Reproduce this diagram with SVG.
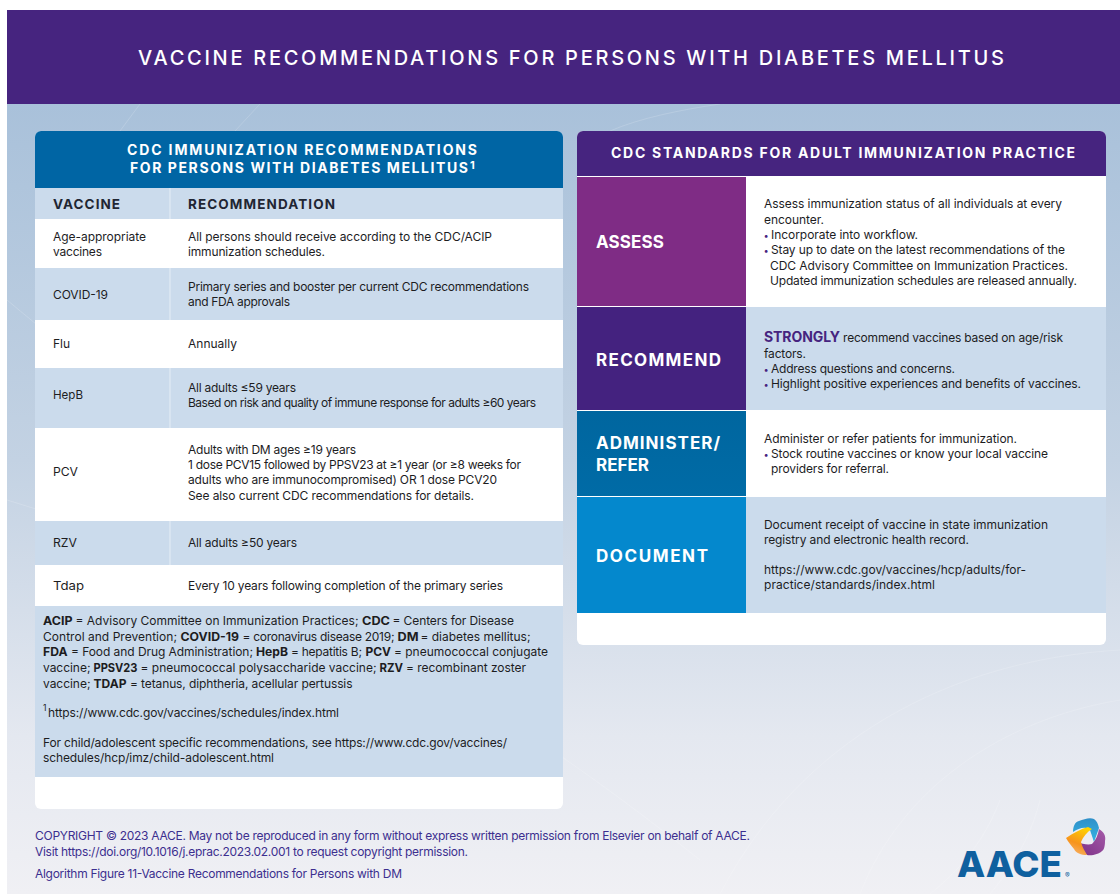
<svg xmlns="http://www.w3.org/2000/svg" width="1120" height="894" viewBox="0 0 1120 894">
<defs>
<linearGradient id="bg" x1="0" y1="0" x2="0" y2="1"><stop offset="0" stop-color="#a9c1da"/><stop offset="0.45" stop-color="#c3d2e3"/><stop offset="0.8" stop-color="#e4e8f0"/><stop offset="1" stop-color="#f0f0f4"/></linearGradient>
<linearGradient id="blueG" x1="0" y1="0" x2="0" y2="1"><stop offset="0" stop-color="#2f8fc8"/><stop offset="1" stop-color="#34b4e4"/></linearGradient>
<linearGradient id="purG" x1="1" y1="0" x2="0" y2="1"><stop offset="0" stop-color="#a45aa8"/><stop offset="1" stop-color="#7c2f86"/></linearGradient>
<linearGradient id="orG" x1="0.7" y1="0" x2="0.3" y2="1"><stop offset="0" stop-color="#ffd400"/><stop offset="0.6" stop-color="#f7941d"/><stop offset="1" stop-color="#f6b26b"/></linearGradient>
<linearGradient id="admG" x1="0" y1="0" x2="0" y2="1"><stop offset="0" stop-color="#00669f"/><stop offset="1" stop-color="#006ba6"/></linearGradient>
</defs>
<style>
text{font-family:"Inter","Liberation Sans",sans-serif}
.b{font-size:12px;fill:#1d1d1f}
.s{font-weight:700}
.th{font-size:13.5px;font-weight:700;fill:#1f2633}
.ttl{font-size:14px;font-weight:700;fill:#fff}
.act{font-size:17px;font-weight:700;fill:#fff}
.ft{font-size:12px;fill:#3c2f8f}
.lt{fill:#cbdbec}
.wh{fill:#fff}
.dv{stroke:#e6eef6;stroke-width:1;fill:none}
.arc{stroke:#fff;stroke-opacity:.16;stroke-width:1;fill:none}
.bu{fill:#46247f;font-size:9px;font-weight:700}
</style>
<rect width="1120" height="894" fill="#fff"/>
<rect id="background" x="7" y="104" width="1113" height="790" fill="url(#bg)"/>
<g id="bg-arcs">
<path class="arc" d="M7 300C150 420 300 520 560 610"/><path class="arc" d="M7 500C200 560 400 620 700 860"/><path class="arc" d="M1120 650C950 660 800 740 720 894"/><path class="arc" d="M1120 700C1000 720 900 790 860 894"/><path class="arc" d="M1040 800C1030 840 1010 870 990 894"/><path class="arc" d="M1000 800C985 840 960 870 930 894"/><path class="arc" d="M140 104L120 131"/><path class="arc" d="M260 104L235 131"/><path class="arc" d="M720 104C680 110 640 118 610 131"/>
</g>
<g id="title-bar"><rect x="7" y="10" width="1113" height="94" fill="#46247f"/>
<text x="138" y="65" font-size="20" font-weight="500" fill="#fff" textLength="866">VACCINE RECOMMENDATIONS FOR PERSONS WITH DIABETES MELLITUS</text></g>

<g id="left-panel">
<rect x="35" y="131" width="528" height="678" rx="6" class="wh"/>
<path d="M35 188V137a6 6 0 0 1 6-6H557a6 6 0 0 1 6 6V188Z" fill="#0065a4"/>
<text class="ttl" x="127" y="155" textLength="350">CDC IMMUNIZATION RECOMMENDATIONS</text>
<text class="ttl" x="130" y="173" textLength="338">FOR PERSONS WITH DIABETES MELLITUS</text>
<text x="470" y="169" font-size="11" font-weight="700" fill="#fff">1</text>
</g>
<g id="table-header"><rect x="35" y="188" width="528" height="31" class="lt"/><path class="dv" d="M170 188V219"/>
<text class="th" x="53" y="209" textLength="67">VACCINE</text><text class="th" x="188" y="209" textLength="147">RECOMMENDATION</text></g>
<g id="row-age">
<text class="b" x="53" y="241" textLength="93">Age-appropriate</text><text class="b" x="53" y="256" textLength="49">vaccines</text>
<text class="b" x="188" y="241" textLength="304">All persons should receive according to the CDC/ACIP</text><text class="b" x="188" y="256" textLength="137">immunization schedules.</text></g>
<g id="row-covid"><rect x="35" y="268" width="528" height="52" class="lt"/><path class="dv" d="M170 268V320"/>
<text class="b" x="53" y="299" textLength="55">COVID-19</text>
<text class="b" x="188" y="291" textLength="341">Primary series and booster per current CDC recommendations</text><text class="b" x="188" y="306" textLength="102">and FDA approvals</text></g>
<g id="row-flu"><text class="b" x="53" y="348">Flu</text><text class="b" x="188" y="348" textLength="49">Annually</text></g>
<g id="row-hepb"><rect x="35" y="368" width="528" height="60" class="lt"/><path class="dv" d="M170 368V428"/>
<text class="b" x="53" y="399" textLength="30" lengthAdjust="spacingAndGlyphs">HepB</text>
<text class="b" x="188" y="392" textLength="108">All adults ≤59 years</text><text class="b" x="188" y="407" textLength="348">Based on risk and quality of immune response for adults ≥60 years</text></g>
<g id="row-pcv"><text class="b" x="53" y="476" textLength="25" lengthAdjust="spacingAndGlyphs">PCV</text>
<text class="b" x="188" y="454" textLength="168">Adults with DM ages ≥19 years</text>
<text class="b" x="188" y="469" textLength="333">1 dose PCV15 followed by PPSV23 at ≥1 year (or ≥8 weeks for</text>
<text class="b" x="188" y="484" textLength="309">adults who are immunocompromised) OR 1 dose PCV20</text>
<text class="b" x="188" y="500" textLength="286">See also current CDC recommendations for details.</text></g>
<g id="row-rzv"><rect x="35" y="521" width="528" height="44" class="lt"/><path class="dv" d="M170 521V565"/>
<text class="b" x="53" y="547" textLength="24" lengthAdjust="spacingAndGlyphs">RZV</text><text class="b" x="188" y="547" textLength="109">All adults ≥50 years</text></g>
<g id="row-tdap"><text class="b" x="53" y="590" textLength="31" lengthAdjust="spacingAndGlyphs">Tdap</text><text class="b" x="188" y="590" textLength="315">Every 10 years following completion of the primary series</text></g>
<g id="notes"><rect x="35" y="606" width="528" height="171" class="lt"/>
<text class="b" y="624.5"><tspan class="s" x="43" textLength="29.5" lengthAdjust="spacingAndGlyphs">ACIP</tspan><tspan x="75.5" textLength="283">= Advisory Committee on Immunization Practices;</tspan><tspan class="s" x="362" textLength="28" lengthAdjust="spacingAndGlyphs">CDC</tspan><tspan x="392.5" textLength="121.5">= Centers for Disease</tspan></text>
<text class="b" y="640.5"><tspan x="43" textLength="134">Control and Prevention;</tspan><tspan class="s" x="180.5" textLength="58.5" lengthAdjust="spacingAndGlyphs">COVID-19</tspan><tspan x="242.5" textLength="152">= coronavirus disease 2019;</tspan><tspan class="s" x="397.5" textLength="21" lengthAdjust="spacingAndGlyphs">DM</tspan><tspan x="420.5" textLength="110">= diabetes mellitus;</tspan></text>
<text class="b" y="656"><tspan class="s" x="43" textLength="24.5" lengthAdjust="spacingAndGlyphs">FDA</tspan><tspan x="71" textLength="182">= Food and Drug Administration;</tspan><tspan class="s" x="256" textLength="32" lengthAdjust="spacingAndGlyphs">HepB</tspan><tspan x="291" textLength="71">= hepatitis B;</tspan><tspan class="s" x="365.5" textLength="25.5" lengthAdjust="spacingAndGlyphs">PCV</tspan><tspan x="394" textLength="154">= pneumococcal conjugate</tspan></text>
<text class="b" y="672"><tspan x="43" textLength="47.5">vaccine;</tspan><tspan class="s" x="93.5" textLength="44" lengthAdjust="spacingAndGlyphs">PPSV23</tspan><tspan x="140.5" textLength="236">= pneumococcal polysaccharide vaccine;</tspan><tspan class="s" x="379.5" textLength="23.5" lengthAdjust="spacingAndGlyphs">RZV</tspan><tspan x="406" textLength="120">= recombinant zoster</tspan></text>
<text class="b" y="688"><tspan x="43" textLength="47.5">vaccine;</tspan><tspan class="s" x="93.5" textLength="33" lengthAdjust="spacingAndGlyphs">TDAP</tspan><tspan x="130" textLength="222.5">= tetanus, diphtheria, acellular pertussis</tspan></text>
<text x="43" y="711" font-size="8.5" fill="#1d1d1f">1</text>
<text class="b" x="48" y="717" textLength="291">https://www.cdc.gov/vaccines/schedules/index.html</text>
<text class="b" x="43" y="747" textLength="464">For child/adolescent specific recommendations, see https://www.cdc.gov/vaccines/</text>
<text class="b" x="43" y="762" textLength="231">schedules/hcp/imz/child-adolescent.html</text></g>

<g id="right-panel">
<rect x="577" y="131" width="529" height="514" rx="6" class="wh"/>
<path d="M577 176V137a6 6 0 0 1 6-6H1100a6 6 0 0 1 6 6V176Z" fill="#46247f"/>
<text class="ttl" x="611" y="158" textLength="464">CDC STANDARDS FOR ADULT IMMUNIZATION PRACTICE</text></g>
<g id="assess"><rect x="577" y="177" width="169" height="129" fill="#7f2c85"/>
<text class="act" x="596" y="248" textLength="68">ASSESS</text>
<text class="b" x="764" y="208" textLength="298">Assess immunization status of all individuals at every</text>
<text class="b" x="764" y="224" textLength="60">encounter.</text>
<text class="bu" x="764" y="238.5">•</text><text class="b" x="771" y="239" textLength="147">Incorporate into workflow.</text>
<text class="bu" x="764" y="253.5">•</text><text class="b" x="771" y="254" textLength="294">Stay up to date on the latest recommendations of the</text>
<text class="b" x="770" y="269.5" textLength="298">CDC Advisory Committee on Immunization Practices.</text>
<text class="b" x="770" y="285" textLength="307">Updated immunization schedules are released annually.</text></g>
<g id="recommend"><rect x="746" y="307" width="360" height="103" class="lt"/><rect x="577" y="307" width="169" height="103" fill="#44227f"/>
<text class="act" x="596" y="366" textLength="125">RECOMMEND</text>
<text x="764" y="342" font-size="14" font-weight="700" fill="#46247f" textLength="76">STRONGLY</text>
<text class="b" x="843" y="342" textLength="220">recommend vaccines based on age/risk</text>
<text class="b" x="764" y="358" textLength="42">factors.</text>
<text class="bu" x="764" y="372.5">•</text><text class="b" x="771" y="373" textLength="184">Address questions and concerns.</text>
<text class="bu" x="764" y="387.5">•</text><text class="b" x="771" y="388" textLength="310">Highlight positive experiences and benefits of vaccines.</text></g>
<g id="administer"><rect x="577" y="411" width="169" height="85" fill="url(#admG)"/>
<text class="act" x="596" y="449" textLength="124">ADMINISTER/</text><text class="act" x="596" y="471" textLength="53">REFER</text>
<text class="b" x="764" y="443" textLength="253">Administer or refer patients for immunization.</text>
<text class="bu" x="764" y="457.5">•</text><text class="b" x="771" y="458" textLength="277">Stock routine vaccines or know your local vaccine</text>
<text class="b" x="771" y="473" textLength="118">providers for referral.</text></g>
<g id="document"><rect x="746" y="497" width="360" height="116" class="lt"/><rect x="577" y="497" width="169" height="116" fill="#0488cd"/>
<text class="act" x="596" y="562" textLength="112">DOCUMENT</text>
<text class="b" x="764" y="529" textLength="284">Document receipt of vaccine in state immunization</text>
<text class="b" x="764" y="544" textLength="205">registry and electronic health record.</text>
<text class="b" x="764" y="574" textLength="262">https://www.cdc.gov/vaccines/hcp/adults/for-</text>
<text class="b" x="764" y="589" textLength="171">practice/standards/index.html</text></g>

<g id="footer">
<text class="ft" x="35" y="840" textLength="715">COPYRIGHT © 2023 AACE. May not be reproduced in any form without express written permission from Elsevier on behalf of AACE.</text>
<text class="ft" x="35" y="856" textLength="433">Visit https://doi.org/10.1016/j.eprac.2023.02.001 to request copyright permission.</text>
<text class="ft" x="35" y="878" textLength="367">Algorithm Figure 11-Vaccine Recommendations for Persons with DM</text></g>
<g id="logo">
<text x="957" y="877" font-size="36" font-weight="800" fill="#0f609f" textLength="105" lengthAdjust="spacingAndGlyphs">AACE</text>
<text x="1065" y="878" font-size="7" fill="#0f609f">®</text>
<path d="M1073 832C1073 826 1075 822 1079 821C1084 819 1090 817 1094 819C1097 821 1098 824 1099 828L1094 842L1090 830C1086 826 1079 828 1073 832Z" fill="url(#blueG)"/>
<path d="M1099 829C1104 832 1106 836 1105 841C1105 846 1104 850 1102 851C1099 854 1092 856 1087 855C1083 851 1079 846 1077 842C1082 844 1088 845 1092 844C1096 840 1098 835 1099 829Z" fill="url(#purG)"/>
<path d="M1066 838C1073 833 1081 829 1088 827L1092 829C1087 832 1083 837 1081 842C1082 847 1085 851 1087 855C1081 855 1076 853 1074 849C1071 845 1068 842 1066 838Z" fill="url(#orG)"/>
</g>
</svg>
